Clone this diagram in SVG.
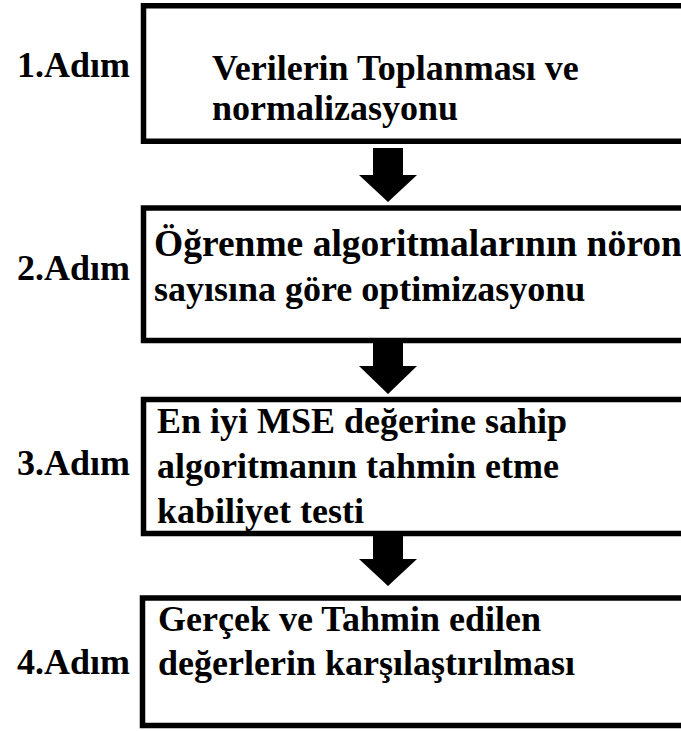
<svg xmlns="http://www.w3.org/2000/svg" width="681" height="731" viewBox="0 0 681 731">
<style>
.box{fill:#fff;stroke:#000;stroke-width:5.5}
.t{font-family:"Liberation Serif","Times New Roman",serif;font-weight:bold;font-size:36px;fill:#000}
.arr{fill:#000}
</style>
<rect width="681" height="731" fill="#fff"/>
<g id="step1">
<rect class="box" x="143.5" y="5.75" width="560" height="135.5"/>
<text class="t" x="17" y="77">1.Adım</text>
<text class="t" x="212" y="80">Verilerin Toplanması ve</text>
<text class="t" x="212" y="120">normalizasyonu</text>
</g>
<g id="step2">
<rect class="box" x="143.5" y="208" width="560" height="132.5"/>
<text class="t" x="17" y="280">2.Adım</text>
<text class="t" x="154" y="256" style="font-size:37.5px">Öğrenme algoritmalarının nöron</text>
<text class="t" x="154" y="301">sayısına göre optimizasyonu</text>
</g>
<g id="step3">
<rect class="box" x="143.5" y="399.5" width="560" height="134"/>
<text class="t" x="17" y="475">3.Adım</text>
<text class="t" x="157" y="433">En iyi MSE değerine sahip</text>
<text class="t" x="157" y="478">algoritmanın tahmin etme</text>
<text class="t" x="157" y="523">kabiliyet testi</text>
</g>
<g id="step4">
<rect class="box" x="142.5" y="598" width="560" height="127.5"/>
<text class="t" x="17" y="674">4.Adım</text>
<text class="t" x="158" y="631">Gerçek ve Tahmin edilen</text>
<text class="t" x="158" y="675">değerlerin karşılaştırılması</text>
</g>
<g id="connectors">
<polygon class="arr" points="373,148 403,148 403,175 417,175 388,202 359,175 373,175"/>
<polygon class="arr" points="373,343 403,343 403,366 417,366 388,394 359,366 373,366"/>
<polygon class="arr" points="373,536 403,536 403,559 417,559 388,586 359,559 373,559"/>
</g>
</svg>
